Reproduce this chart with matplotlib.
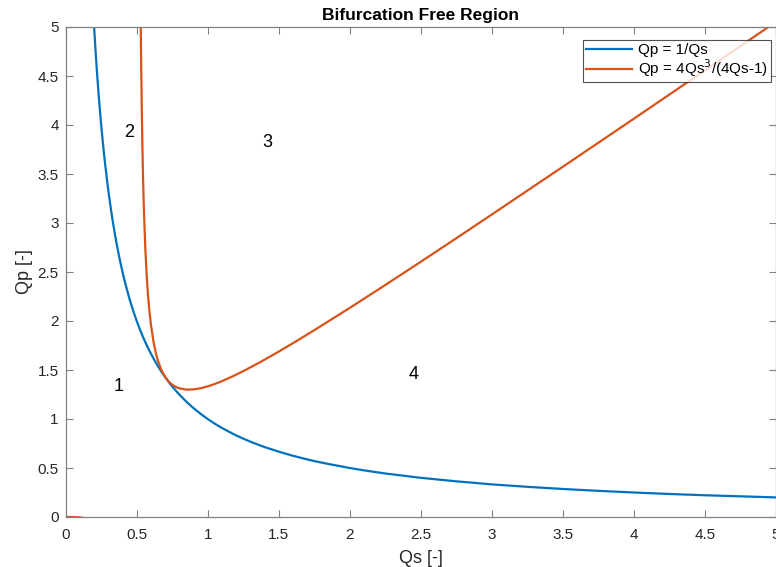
import matplotlib
matplotlib.use("Agg")
import matplotlib.pyplot as plt

nan = float("nan")

# Qp = 1/Qs
qs_blue = [0.2, 0.21, 0.22, 0.23, 0.24, 0.25, 0.26, 0.27, 0.28, 0.3, 0.315, 0.33, 0.345,
           0.36, 0.38, 0.4, 0.42, 0.45, 0.475, 0.5, 0.525, 0.55, 0.575, 0.6, 0.625,
           0.65, 0.675, 0.7, 0.725, 0.75, 0.775, 0.8, 0.85, 0.9, 0.95, 1.0, 1.05,
           1.1, 1.15, 1.2, 1.25, 1.3, 1.35, 1.4, 1.5, 1.6, 1.7, 1.75, 1.85, 2.0,
           2.1, 2.25, 2.5, 2.75, 3.0, 3.25, 3.5, 3.75, 4.0, 4.25, 4.5, 4.75, 5.0]
qp_blue = [5.0, 4.762, 4.545, 4.348, 4.167, 4.0, 3.846, 3.704, 3.571, 3.333, 3.175, 3.030, 2.899,
           2.778, 2.632, 2.5, 2.381, 2.222, 2.105, 2.0, 1.905, 1.818, 1.739, 1.667, 1.6,
           1.538, 1.481, 1.429, 1.379, 1.333, 1.290, 1.25, 1.176, 1.111, 1.053, 1.0, 0.952,
           0.909, 0.870, 0.833, 0.8, 0.769, 0.741, 0.714, 0.667, 0.625, 0.588, 0.571, 0.541, 0.5,
           0.476, 0.444, 0.4, 0.364, 0.333, 0.308, 0.286, 0.267, 0.25, 0.235, 0.222, 0.211, 0.2]

# orange curve, small stub near the origin then the branch right of Qs=0.5
qs_orange = [0.0, 0.05, 0.1, 0.15, 0.2, 0.3, nan,
             0.515, 0.52, 0.525, 0.53, 0.535, 0.54, 0.545, 0.55, 0.56, 0.57, 0.58, 0.59,
             0.6, 0.62, 0.635, 0.65, 0.675, 0.7, 0.725, 0.75, 0.775, 0.8, 0.85, 0.9,
             0.95, 1.0, 1.05, 1.1, 1.175, 1.25, 1.375, 1.5, 1.625, 1.75, 2.0, 2.25,
             2.5, 2.75, 3.0, 3.5, 4.0, 4.5, 5.0]
qp_orange = [0.0, -0.0005, -0.0042, -0.0148, -0.038, -0.169, nan,
             8.97, 6.89, 5.647, 4.818, 4.227, 3.785, 3.442, 3.169, 2.761, 2.473, 2.258, 2.094,
             1.964, 1.773, 1.671, 1.592, 1.4957, 1.429, 1.3826, 1.35, 1.3276, 1.313, 1.2997, 1.302,
             1.314, 1.333, 1.3579, 1.386, 1.4348, 1.488, 1.5845, 1.6875, 1.7949, 1.906, 2.133, 2.3669,
             2.604, 2.844, 3.086, 3.573, 4.063, 4.556, 5.051]

region_labels = ["1", "2", "3", "4"]
region_x = [0.37, 0.45, 1.42, 2.45]
region_y = [1.33, 3.92, 3.82, 1.45]

plt.rcParams["font.family"] = ["Liberation Sans", "DejaVu Sans"]

fig = plt.figure(figsize=(7.76, 5.67), dpi=100)
ax = fig.add_axes([65.7 / 776, 50 / 567, 710 / 776, 490 / 567])

ax.plot(qs_blue, qp_blue, color="#0072BD", lw=1.6, label="Qp = 1/Qs")
ax.plot(qs_orange, qp_orange, color="#D95319", lw=1.6,
        label="Qp = 4Qs$^{3}$/(4Qs-1)")

for t, x, y in zip(region_labels, region_x, region_y):
    ax.text(x, y, t, fontsize=13, ha="center", va="center")

ax.set_xlim(0, 5)
ax.set_ylim(0, 5)
ax.set_xticks([0, 0.5, 1, 1.5, 2, 2.5, 3, 3.5, 4, 4.5, 5])
ax.set_xticklabels(["0", "0.5", "1", "1.5", "2", "2.5", "3", "3.5", "4", "4.5", "5"])
ax.set_yticks([0, 0.5, 1, 1.5, 2, 2.5, 3, 3.5, 4, 4.5, 5])
ax.set_yticklabels(["0", "0.5", "1", "1.5", "2", "2.5", "3", "3.5", "4", "4.5", "5"])

gray = "#262626"
for s in ax.spines.values():
    s.set_color("#808080")
    s.set_linewidth(0.9)
ax.tick_params(direction="in", length=5, width=0.8, color="#808080",
               labelcolor=gray, labelsize=11, top=True, right=True)
ax.tick_params(axis="x", pad=8)
ax.tick_params(axis="y", pad=5)

ax.set_xlabel("Qs [-]", fontsize=13, color=gray, labelpad=6)
ax.set_ylabel("Qp [-]", fontsize=13, color=gray, labelpad=3)
ax.set_title("Bifurcation Free Region", fontsize=12.5, fontweight="bold", pad=5)

leg = ax.legend(loc="upper right", fontsize=11, frameon=True,
                fancybox=False, edgecolor="#262626", handlelength=3.0,
                handletextpad=0.4, borderaxespad=0.0, borderpad=0.2,
                labelspacing=0.0, handleheight=0.5)
leg.set_bbox_to_anchor((771 / 776, 1 - 40 / 567), transform=fig.transFigure)
leg.get_frame().set_linewidth(0.8)

fig.savefig("out.png", dpi=100)
